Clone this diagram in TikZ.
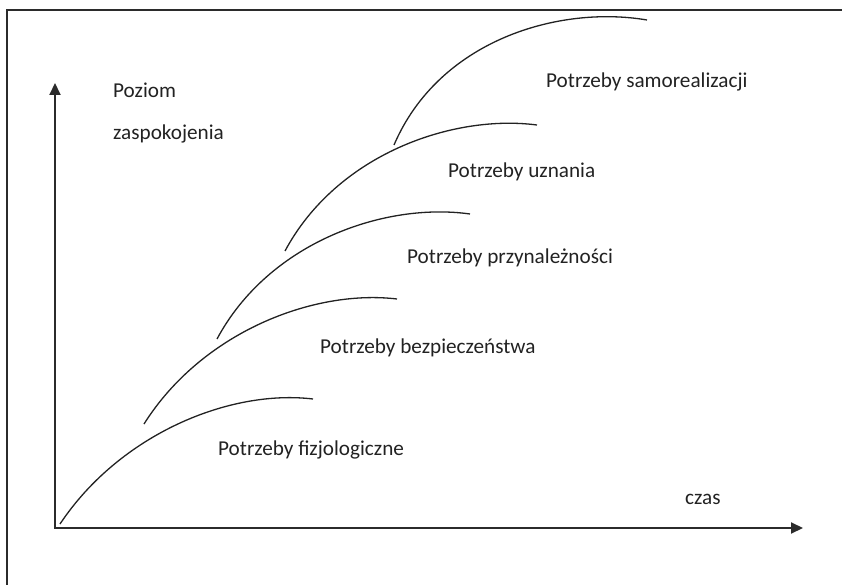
\documentclass[tikz,border=0pt]{standalone}
\usepackage{fontspec}
\setmainfont{Carlito}
\usetikzlibrary{arrows.meta,calc}

\definecolor{ink}{HTML}{222222}
\definecolor{rule}{HTML}{2B2B2B}

\tikzset{
  frameline/.style={draw=rule, line width=2pt},
  axisline/.style={draw=rule, line width=2pt, line join=miter,
    {Triangle[length=12pt,width=11pt]}-{Triangle[length=12pt,width=11pt]}},
  needcurve/.style={draw=ink, line width=1.3pt},
  lbl/.style={anchor=base west, inner sep=0pt, text=ink,
    font=\fontsize{21.2}{25}\selectfont}
}

\begin{document}
\begin{tikzpicture}[x=1pt,y=-1pt]
  \useasboundingbox (0,0) rectangle (842,585);

  % outer frame (left and top edges)
  \draw[frameline] (7,585) -- (7,10) -- (842,10);

  % axes
  \coordinate (o) at (55,528);
  \coordinate (ytip) at (55,83);
  \coordinate (xtip) at (803,528);
  \draw[axisline] (ytip) -- (o) -- (xtip);

  % start and end points of each need curve
  \coordinate (f0) at (60,524);  \coordinate (f1) at (313,399);
  \coordinate (b0) at (144,424); \coordinate (b1) at (397,299);
  \coordinate (p0) at (217,339); \coordinate (p1) at (470,214);
  \coordinate (u0) at (285,251); \coordinate (u1) at (537,125);
  \coordinate (s0) at (394,145); \coordinate (s1) at (647,20);

  \draw[needcurve] (f0) .. controls ($(f0)+(60,-90)$) and ($(f0)+(170,-135)$) .. (f1);
  \draw[needcurve] (b0) .. controls ($(b0)+(58,-92)$) and ($(b0)+(170,-135)$) .. (b1);
  \draw[needcurve] (p0) .. controls ($(p0)+(52,-97)$) and ($(p0)+(168,-137)$) .. (p1);
  \draw[needcurve] (u0) .. controls ($(u0)+(52,-97)$) and ($(u0)+(168,-137)$) .. (u1);
  \draw[needcurve] (s0) .. controls ($(s0)+(45,-105)$) and ($(s0)+(165,-140)$) .. (s1);

  % labels
  \node[lbl] (ylab1) at (113,98) {Poziom};
  \node[lbl] (ylab2) at (113,140) {zaspokojenia};
  \node[lbl] (xlab) at (685,504) {czas};
  \node[lbl] (lsam) at (546,88) {Potrzeby samorealizacji};
  \node[lbl] (luzn) at (448,178) {Potrzeby uznania};
  \node[lbl] (lprz) at (407,263) {Potrzeby przynależności};
  \node[lbl] (lbez) at (320,353) {Potrzeby bezpieczeństwa};
  \node[lbl] (lfiz) at (218,455) {Potrzeby fizjologiczne};
\end{tikzpicture}
\end{document}
